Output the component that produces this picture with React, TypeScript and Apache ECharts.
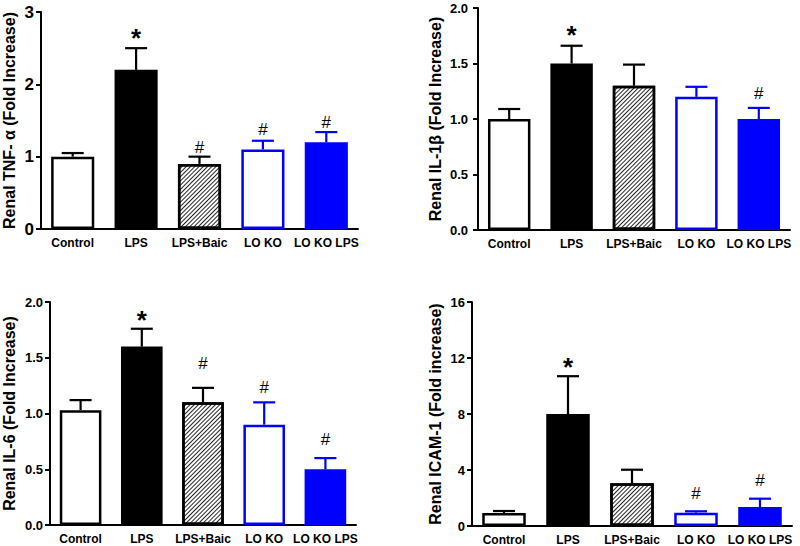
import React, { useEffect, useRef } from "react";
import * as echarts from "echarts";

const categories = ["Control", "LPS", "LPS+Baic", "LO KO", "LO KO LPS"];

const tnfMean = [1.0, 2.2, 0.9, 1.1, 1.2];
const tnfErr = [1.05, 2.5, 1.0, 1.22, 1.34];
const tnfMarks = ["", "*", "#", "#", "#"];
const tnfMarkY = [0, 2.71, 1.13, 1.37, 1.47];

const il1bMean = [1.0, 1.5, 1.3, 1.2, 1.0];
const il1bErr = [1.09, 1.66, 1.49, 1.29, 1.1];
const il1bMarks = ["", "*", "", "", "#"];
const il1bMarkY = [0, 1.8, 0, 0, 1.23];

const il6Mean = [1.03, 1.6, 1.1, 0.9, 0.5];
const il6Err = [1.12, 1.76, 1.23, 1.1, 0.6];
const il6Marks = ["", "*", "#", "#", "#"];
const il6MarkY = [0, 1.88, 1.45, 1.23, 0.77];

const icamMean = [0.93, 8.0, 3.06, 0.95, 1.35];
const icamErr = [1.07, 10.7, 4.02, 1.05, 1.95];
const icamMarks = ["", "*", "", "#", "#"];
const icamMarkY = [0, 11.75, 0, 2.33, 3.28];

const tnfTicks = { min: 0, max: 3, interval: 1 };
const il1bTicks = { min: 0, max: 2, interval: 0.5 };
const il6Ticks = { min: 0, max: 2, interval: 0.5 };
const icamTicks = { min: 0, max: 16, interval: 4 };

const FONT = "Arial, 'Liberation Sans', sans-serif";
const BLUE = "#0000ff";

const hatch = {
  symbol: "rect",
  symbolSize: 1,
  color: "rgba(0,0,0,0.85)",
  backgroundColor: "#ffffff",
  dashArrayX: [1, 0],
  dashArrayY: [1, 2],
  rotation: -Math.PI / 4,
};

const barStyles = [
  { color: "#ffffff", borderColor: "#000000" },
  { color: "#000000", borderColor: "#000000" },
  { color: "#ffffff", borderColor: "#000000", decal: hatch },
  { color: "#ffffff", borderColor: BLUE },
  { color: BLUE, borderColor: BLUE },
];
const errColors = ["#000000", "#000000", "#000000", BLUE, BLUE];

const panels = [
  {
    title: "Renal TNF- α (Fold Increase)",
    mean: tnfMean, err: tnfErr, marks: tnfMarks, markY: tnfMarkY, ticks: tnfTicks,
    grid: { left: 40, top: 12, width: 318, height: 217 },
    tickFont: 17, nameGap: 24, labelMargin: 7, decimals: 0,
  },
  {
    title: "Renal IL-1β (Fold Increase)",
    mean: il1bMean, err: il1bErr, marks: il1bMarks, markY: il1bMarkY, ticks: il1bTicks,
    grid: { left: 478, top: 8, width: 312, height: 222 },
    tickFont: 13, nameGap: 35, labelMargin: 10, decimals: 1,
  },
  {
    title: "Renal IL-6 (Fold Increase)",
    mean: il6Mean, err: il6Err, marks: il6Marks, markY: il6MarkY, ticks: il6Ticks,
    grid: { left: 50, top: 302, width: 306, height: 223 },
    tickFont: 13, nameGap: 33, labelMargin: 7, decimals: 1,
  },
  {
    title: "Renal ICAM-1 (Fold increase)",
    mean: icamMean, err: icamErr, marks: icamMarks, markY: icamMarkY, ticks: icamTicks,
    grid: { left: 472, top: 302, width: 320, height: 225 },
    tickFont: 13, nameGap: 29, labelMargin: 7, decimals: 0,
  },
];

function buildOption() {
  const grid: any[] = [];
  const xAxis: any[] = [];
  const yAxis: any[] = [];
  const series: any[] = [];
  panels.forEach((p, pi) => {
    grid.push({ ...p.grid, containLabel: false });
    xAxis.push({
      type: "category",
      gridIndex: pi,
      data: categories,
      axisLine: { lineStyle: { color: "#000", width: 2 } },
      axisTick: { show: false },
      axisLabel: {
        color: "#000",
        fontWeight: "bold",
        fontSize: 12,
        fontFamily: FONT,
        margin: 8,
        interval: 0,
      },
    });
    yAxis.push({
      type: "value",
      gridIndex: pi,
      min: p.ticks.min,
      max: p.ticks.max,
      interval: p.ticks.interval,
      name: p.title,
      nameLocation: "middle",
      nameGap: p.nameGap,
      nameTextStyle: {
        color: "#000",
        fontWeight: "bold",
        fontSize: 16,
        fontFamily: FONT,
      },
      splitLine: { show: false },
      axisLine: { show: true, lineStyle: { color: "#000", width: 2 } },
      axisTick: { show: true, length: 5, lineStyle: { color: "#000", width: 2 } },
      axisLabel: {
        color: "#000",
        fontWeight: "bold",
        fontSize: p.tickFont,
        fontFamily: FONT,
        margin: p.labelMargin,
        formatter: (v: number) => v.toFixed(p.decimals),
      },
    });
    series.push({
      type: "bar",
      xAxisIndex: pi,
      yAxisIndex: pi,
      barWidth: "68%",
      data: p.mean.map((v, i) => ({
        value: v,
        itemStyle: { ...barStyles[i], borderWidth: 2.5 },
      })),
      z: 2,
    });
    series.push({
      type: "custom",
      xAxisIndex: pi,
      yAxisIndex: pi,
      z: 5,
      data: p.mean.map((v, i) => [i, v, p.err[i], p.markY[i]]),
      renderItem: (params: any, api: any) => {
        const i = params.dataIndex;
        const x = api.value(0);
        const m = api.value(1);
        const e = api.value(2);
        const my = api.value(3);
        const p0 = api.coord([x, m]);
        const p1 = api.coord([x, e]);
        const half = 11;
        const col = errColors[i];
        const children: any[] = [
          {
            type: "line",
            shape: { x1: p0[0], y1: p0[1], x2: p1[0], y2: p1[1] },
            style: { stroke: col, lineWidth: 2.2 },
          },
          {
            type: "line",
            shape: { x1: p1[0] - half, y1: p1[1], x2: p1[0] + half, y2: p1[1] },
            style: { stroke: col, lineWidth: 2.2 },
          },
        ];
        const mk = p.marks[i];
        if (mk) {
          const pm = api.coord([x, my]);
          const star = mk === "*";
          children.push({
            type: "text",
            x: pm[0],
            y: pm[1] + (star ? 5 : 0),
            style: {
              text: mk,
              fill: "#000",
              font: star
                ? `bold 26px ${FONT}`
                : `17px ${FONT}`,
              align: "center",
              verticalAlign: "middle",
            },
          });
        }
        return { type: "group", children };
      },
    });
  });
  return {
    animation: false,
    backgroundColor: "#ffffff",
    grid,
    xAxis,
    yAxis,
    series,
  };
}

export default function App() {
  const ref = useRef<HTMLDivElement>(null);
  useEffect(() => {
    if (!ref.current) return;
    const chart = echarts.init(ref.current, undefined, { renderer: "svg" });
    chart.setOption(buildOption() as any);
    return () => chart.dispose();
  }, []);
  return (
    <div
      ref={ref}
      style={{ position: "fixed", left: 0, top: 0, width: 800, height: 546, background: "#fff" }}
    />
  );
}
